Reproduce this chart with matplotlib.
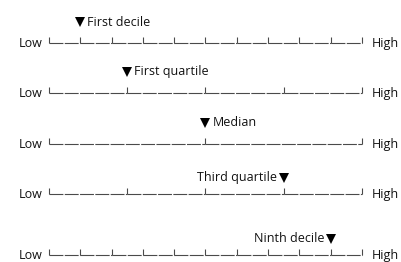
import numpy as np
import matplotlib.pyplot as plt

plt.rcParams['lines.scale_dashes'] = False
plt.rcParams['font.family'] = ['Open Sans', 'DejaVu Sans']

# quantile rows
labels = ["First decile", "First quartile", "Median", "Third quartile", "Ninth decile"]
divisions = [10, 4, 2, 4, 10]
marks = [0.1, 0.25, 0.5, 0.75, 0.9]
label_side = ["right", "right", "right", "left", "left"]

# layout: pixel row of each scale line
row_y = [43, 93, 144, 194, 255]
line_col = "#4a4a4a"

fig = plt.figure(figsize=(4.02, 2.62), dpi=100)
ax = fig.add_axes([0, 0, 1, 1])
# scale 0..1 spans pixels 49..362, y axis in pixels from the top
x0, x1 = 49, 362
ax.set_xlim(-x0 / (x1 - x0), (402 - x0) / (x1 - x0))
ax.set_ylim(262, 0)
ax.axis('off')

for y, lab, n, q, side in zip(row_y, labels, divisions, marks, label_side):
    edges = np.linspace(0, 1, n + 1)
    for a, b in zip(edges[:-1], edges[1:]):
        ax.plot([a, b], [y, y], color=line_col, lw=0.8, dashes=(10, 1.0),
                solid_capstyle='butt', dash_capstyle='butt')
    ax.vlines(edges, y - 6.5, y, color=line_col, lw=0.8)

    if side == "right":
        ty = y - 21
        ax.plot(q, ty, marker='v', ms=6.5, color='black', mew=0)
        ax.annotate(lab, (q, ty), xytext=(5, 0), textcoords='offset points',
                    ha='left', va='center', fontsize=9, color='#111111')
    else:
        ty = y - 16.5
        ax.plot(q, ty, marker='v', ms=6.5, color='black', mew=0)
        ax.annotate(lab, (q, ty), xytext=(-4.5, 0), textcoords='offset points',
                    ha='right', va='center', fontsize=9, color='#111111')

    ax.annotate("Low", (0, y), xytext=(-5, -3), textcoords='offset points',
                ha='right', va='baseline', fontsize=9, color='#111111')
    ax.annotate("High", (1, y), xytext=(7, -3), textcoords='offset points',
                ha='left', va='baseline', fontsize=9, color='#111111')

fig.savefig("out.png", dpi=100)
